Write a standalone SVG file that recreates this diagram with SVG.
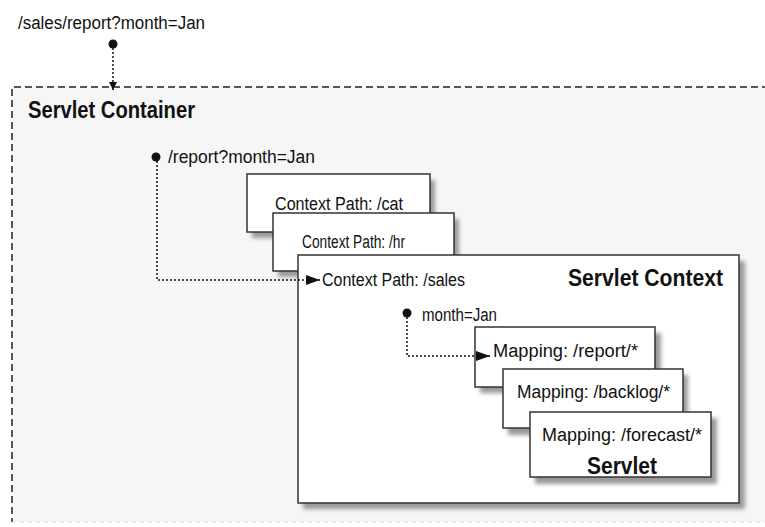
<svg xmlns="http://www.w3.org/2000/svg" width="765" height="527" viewBox="0 0 765 527">
<style>
.t{font-family:"Liberation Sans",Arial,sans-serif;font-size:18px;fill:#111}
.b{font-family:"Liberation Sans",Arial,sans-serif;font-size:23px;font-weight:bold;fill:#111}
.box{fill:#fff;stroke:#333;stroke-width:1.5}
.sh{fill:#999;filter:url(#blur)}
.conn{fill:none;stroke:#111;stroke-width:1.5;stroke-dasharray:2 2}
.dot{fill:#111}
</style>
<defs>
<filter id="blur" x="-10%" y="-10%" width="120%" height="120%"><feGaussianBlur stdDeviation="2"/></filter>
<marker id="arr" viewBox="0 0 8 8" refX="8" refY="4" markerWidth="8" markerHeight="8" markerUnits="userSpaceOnUse" orient="auto"><path d="M0,0 L8,4 L0,8 Z" fill="#111"/></marker>
<marker id="arrL" viewBox="0 0 14 10" refX="14" refY="5" markerWidth="14" markerHeight="10" markerUnits="userSpaceOnUse" orient="auto"><path d="M0,0 L14,5 L0,10 Z" fill="#111"/></marker>
</defs>

<g id="container">
<rect x="12" y="87" width="800" height="435" fill="#f6f6f6"/>
<path d="M780,87 H12 V522" fill="none" stroke="#222" stroke-width="1.5" stroke-dasharray="7 4"/>
<path d="M12,522 H765" fill="none" stroke="#ddd" stroke-width="1" stroke-dasharray="4 4"/>
<text class="b" x="28" y="118" textLength="167" lengthAdjust="spacingAndGlyphs">Servlet Container</text>
</g>

<g id="request">
<text class="t" x="18" y="29" textLength="187" lengthAdjust="spacingAndGlyphs">/sales/report?month=Jan</text>
</g>

<g id="ctx-cat">
<rect class="sh" x="252" y="180" width="183" height="58"/>
<rect class="box" x="247" y="174" width="183" height="58"/>
<text class="t" x="275" y="210" textLength="128" lengthAdjust="spacingAndGlyphs">Context Path: /cat</text>
</g>

<g id="ctx-hr">
<rect class="sh" x="278" y="219" width="181" height="58"/>
<rect class="box" x="273" y="213" width="181" height="58"/>
<text class="t" x="302" y="248" textLength="103" lengthAdjust="spacingAndGlyphs">Context Path: /hr</text>
</g>

<g id="ctx-sales">
<rect class="sh" x="303" y="261" width="442" height="248"/>
<rect class="box" x="298" y="255" width="441" height="248"/>
<text class="t" x="322" y="286" textLength="143" lengthAdjust="spacingAndGlyphs">Context Path: /sales</text>
<text class="b" x="568" y="286" textLength="155" lengthAdjust="spacingAndGlyphs">Servlet Context</text>
<text class="t" x="422" y="321" textLength="75" lengthAdjust="spacingAndGlyphs">month=Jan</text>
</g>

<g id="map-report">
<rect class="sh" x="480" y="333" width="181" height="60"/>
<rect class="box" x="475" y="327" width="180" height="60"/>
<text class="t" x="493" y="357" textLength="145" lengthAdjust="spacingAndGlyphs">Mapping: /report/*</text>
</g>

<g id="map-backlog">
<rect class="sh" x="508" y="375" width="180" height="60"/>
<rect class="box" x="503" y="369" width="180" height="59"/>
<text class="t" x="517" y="398" textLength="153" lengthAdjust="spacingAndGlyphs">Mapping: /backlog/*</text>
</g>

<g id="map-forecast">
<rect class="sh" x="535" y="418" width="182" height="66"/>
<rect class="box" x="530" y="412" width="181" height="65"/>
<text class="t" x="542" y="441" textLength="160" lengthAdjust="spacingAndGlyphs">Mapping: /forecast/*</text>
<text class="b" x="587" y="474" textLength="70" lengthAdjust="spacingAndGlyphs">Servlet</text>
</g>

<g id="connectors">
<circle class="dot" cx="113" cy="44" r="4.5"/>
<path class="conn" d="M113,48 V90" stroke-width="2.5" marker-end="url(#arr)"/>
<circle class="dot" cx="156" cy="157" r="4.5"/>
<text class="t" x="168" y="163" textLength="147" lengthAdjust="spacingAndGlyphs">/report?month=Jan</text>
<path class="conn" d="M157,161 V280 H320" marker-end="url(#arrL)"/>
<circle class="dot" cx="407" cy="313" r="4.5"/>
<path class="conn" d="M407,317 V356 H490" marker-end="url(#arrL)"/>
</g>
</svg>
